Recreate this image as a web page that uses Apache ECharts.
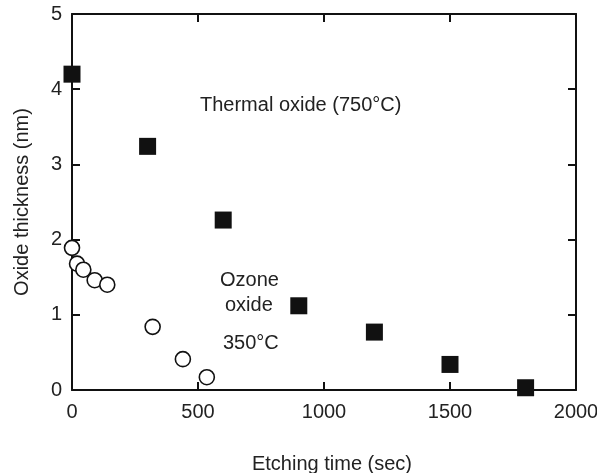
<!DOCTYPE html>
<html><head><meta charset="utf-8">
<script src="https://cdn.jsdelivr.net/npm/echarts@6/dist/echarts.min.js"></script>
<style>html,body{margin:0;padding:0;background:#fff}#c{width:597px;height:473px}</style>
</head><body><div id="c"></div>
<script>
const thermalTime = [0, 300, 600, 900, 1200, 1500, 1800];
const thermalThick = [4.2, 3.24, 2.26, 1.12, 0.77, 0.34, 0.03];
const ozoneTime = [0, 20, 45, 90, 140, 320, 440, 535];
const ozoneThick = [1.89, 1.68, 1.6, 1.46, 1.4, 0.84, 0.41, 0.17];
const xTicks = [0, 500, 1000, 1500, 2000];
const yTicks = [0, 1, 2, 3, 4, 5];

const FONT = '"Liberation Sans", Arial, sans-serif';
const FS = 20;
const chart = echarts.init(document.getElementById('c'), null, {renderer: 'canvas'});
const axLine = {show: true, onZero: false, lineStyle: {color: '#111', width: 2}};
const tickIn = {show: true, inside: true, length: 8, lineStyle: {color: '#111', width: 2}};
chart.setOption({
  animation: false,
  backgroundColor: '#fff',
  grid: {left: 72, right: 21, top: 14, bottom: 83, outerBoundsMode: 'none', containLabel: false},
  xAxis: [{
    type: 'value', min: xTicks[0], max: xTicks[xTicks.length-1], interval: 500, position: 'bottom',
    axisLine: axLine, axisTick: tickIn, splitLine: {show: false},
    axisLabel: {color: '#222', fontSize: FS, fontFamily: FONT, margin: 12, formatter: v => String(v)},
    name: 'Etching time (sec)', nameLocation: 'middle', nameGap: 64,
    nameTextStyle: {color: '#222', fontSize: FS, fontFamily: FONT, padding: [0, 0, 0, 16]}
  }, {
    type: 'value', min: xTicks[0], max: xTicks[xTicks.length-1], interval: 500, position: 'top',
    axisLine: axLine, axisTick: tickIn, splitLine: {show: false}, axisLabel: {show: false}
  }],
  yAxis: [{
    type: 'value', min: yTicks[0], max: yTicks[yTicks.length-1], interval: 1, position: 'left',
    axisLine: axLine, axisTick: tickIn, splitLine: {show: false},
    axisLabel: {color: '#222', fontSize: FS, fontFamily: FONT, margin: 10},
    name: 'Oxide thickness (nm)', nameLocation: 'middle', nameGap: 40,
    nameTextStyle: {color: '#222', fontSize: FS, fontFamily: FONT}
  }, {
    type: 'value', min: yTicks[0], max: yTicks[yTicks.length-1], interval: 1, position: 'right',
    axisLine: axLine, axisTick: tickIn, splitLine: {show: false}, axisLabel: {show: false}
  }],
  series: [{
    type: 'scatter', name: 'Thermal oxide',
    data: thermalTime.map((t, i) => [t, thermalThick[i]]),
    symbol: 'rect', symbolSize: 17,
    itemStyle: {color: '#111', opacity: 1}
  }, {
    type: 'scatter', name: 'Ozone oxide',
    data: ozoneTime.map((t, i) => [t, ozoneThick[i]]),
    symbol: 'circle', symbolSize: 15,
    itemStyle: {color: '#fff', borderColor: '#111', borderWidth: 1.6, opacity: 1}
  }],
  graphic: [
    {type: 'text', x: 200, y: 105, style: {text: 'Thermal oxide (750°C)', fill: '#222', fontSize: FS, fontFamily: FONT, verticalAlign: 'middle'}},
    {type: 'text', x: 220, y: 280, style: {text: 'Ozone', fill: '#222', fontSize: FS, fontFamily: FONT, verticalAlign: 'middle'}},
    {type: 'text', x: 225, y: 305, style: {text: 'oxide', fill: '#222', fontSize: FS, fontFamily: FONT, verticalAlign: 'middle'}},
    {type: 'text', x: 223, y: 343, style: {text: '350°C', fill: '#222', fontSize: FS, fontFamily: FONT, verticalAlign: 'middle'}}
  ]
});
</script></body></html>
